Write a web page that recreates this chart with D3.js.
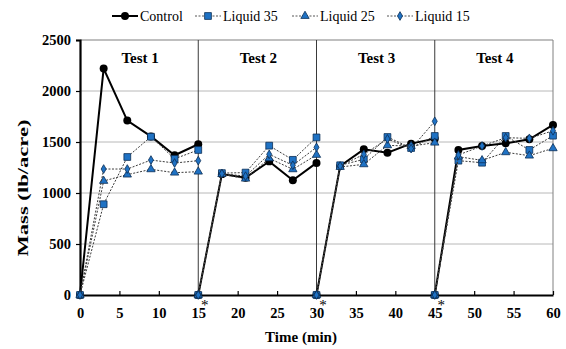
<!DOCTYPE html>
<html>
<head>
<meta charset="utf-8">
<script src="https://cdn.jsdelivr.net/npm/d3@7"></script>
<style>
  html, body { margin: 0; padding: 0; background: #fff; }
  svg text { font-family: "Liberation Serif", "Times New Roman", Times, "Nimbus Roman", "DejaVu Serif", serif !important; }
</style>
</head>
<body>
<svg id="chart" width="566" height="349"></svg>
<script>
// Test blocks and sampling times (minutes from the start of each test)
const testNames = ["Test 1", "Test 2", "Test 3", "Test 4"];
const testStarts = [0, 15, 30, 45];
const sampleOffsets = [0, 3, 6, 9, 12, 15];

// Mass (lb/acre) per test, one row per test, one value per sampling time
const control  = [[0, 2220, 1710, 1555, 1370, 1478],
                  [0, 1185, 1150, 1310, 1125, 1295],
                  [0, 1265, 1428, 1395, 1484, 1533],
                  [0, 1422, 1461, 1487, 1526, 1667]];
const liquid35 = [[0,  890, 1353, 1552, 1335, 1422],
                  [0, 1195, 1200, 1464, 1325, 1545],
                  [0, 1272, 1330, 1549, 1441, 1559],
                  [0, 1317, 1297, 1559, 1422, 1562]];
const liquid25 = [[0, 1118, 1180, 1232, 1199, 1209],
                  [0, 1185, 1140, 1340, 1232, 1373],
                  [0, 1255, 1281, 1467, 1460, 1493],
                  [0, 1356, 1320, 1399, 1366, 1438]];
const liquid15 = [[0, 1235, 1235, 1323, 1294, 1317],
                  [0, 1190, 1165, 1379, 1272, 1448],
                  [0, 1265, 1379, 1530, 1435, 1703],
                  [0, 1373, 1461, 1542, 1536, 1610]];

const xTicks = [0, 5, 10, 15, 20, 25, 30, 35, 40, 45, 50, 55, 60];
const yTicks = [0, 500, 1000, 1500, 2000, 2500];
const asteriskTimes = [15, 30, 45];

const seriesList = [
  { name: "Control",   values: control,  shape: "circle" },
  { name: "Liquid 35", values: liquid35, shape: "square" },
  { name: "Liquid 25", values: liquid25, shape: "triangle" },
  { name: "Liquid 15", values: liquid15, shape: "diamond" }
];

const svg = d3.select("#chart");
const x = d3.scaleLinear().domain([0, 60]).range([80, 553]);
const y = d3.scaleLinear().domain([0, 2500]).range([295, 40]);

const markerFill = "#1f72c4";
const markerStroke = "#0c2f55";

// horizontal gridlines
svg.append("g").selectAll("line").data(yTicks.filter(d => d > 0 && d < 2500)).join("line")
  .attr("x1", x(0)).attr("x2", x(60))
  .attr("y1", d => y(d)).attr("y2", d => y(d))
  .attr("stroke", "#b8b8b8").attr("stroke-width", 1);

// plot frame: top and right edges
svg.append("line").attr("x1", x(0)).attr("x2", x(60)).attr("y1", y(2500)).attr("y2", y(2500))
  .attr("stroke", "#808080").attr("stroke-width", 1.2);
svg.append("line").attr("x1", x(60)).attr("x2", x(60)).attr("y1", y(2500)).attr("y2", y(0))
  .attr("stroke", "#808080").attr("stroke-width", 1);

// dividers between tests
svg.append("g").selectAll("line").data(testStarts.slice(1)).join("line")
  .attr("x1", d => x(d)).attr("x2", d => x(d))
  .attr("y1", y(2500)).attr("y2", y(0))
  .attr("stroke", "#3a3a3a").attr("stroke-width", 1);

// test titles
svg.append("g").selectAll("text").data(testNames).join("text")
  .attr("x", (d, i) => x(testStarts[i] + 7.5) + 1)
  .attr("y", 62.5)
  .attr("text-anchor", "middle")
  .attr("font-weight", "bold").attr("font-size", 15)
  .text(d => d);

// axes
const yAxis = d3.axisLeft(y).tickValues(yTicks).tickSize(4).tickPadding(5).tickFormat(d3.format("d"));
const gy = svg.append("g").attr("transform", `translate(${x(0)},0)`).call(yAxis);
gy.select(".domain").attr("stroke", "#000").attr("stroke-width", 2.2);
gy.selectAll(".tick line").attr("stroke", "#000").attr("stroke-width", 1.2);
gy.selectAll(".tick text").attr("font-weight", "bold").attr("font-size", 14.5).attr("fill", "#000");

const xAxis = d3.axisBottom(x).tickValues(xTicks).tickSizeInner(-4).tickSizeOuter(0).tickPadding(13).tickFormat(d3.format("d"));
const gx = svg.append("g").attr("transform", `translate(0,${y(0)})`).call(xAxis);
gx.select(".domain").attr("stroke", "#000").attr("stroke-width", 2.2);
gx.selectAll(".tick line").attr("stroke", "#000").attr("stroke-width", 1.2);
gx.selectAll(".tick text").attr("font-weight", "bold").attr("font-size", 14.5).attr("fill", "#000");

// asterisks marking the start of each new test, set just above the tick label
gx.selectAll(".tick text")
  .filter(d => asteriskTimes.includes(d))
  .append("tspan")
  .attr("x", 6).attr("dy", -8.5)
  .attr("font-weight", "normal").attr("font-size", 15)
  .text("*");

// axis titles
svg.append("text").attr("x", 301).attr("y", 342)
  .attr("text-anchor", "middle").attr("font-weight", "bold").attr("font-size", 15)
  .text("Time (min)");
svg.append("text")
  .attr("transform", "translate(28,188) rotate(-90)")
  .attr("text-anchor", "middle").attr("font-weight", "bold").attr("font-size", 15)
  .attr("textLength", 137).attr("lengthAdjust", "spacingAndGlyphs")
  .text("Mass (lb/acre)");

// marker drawing
const symbolTypes = { circle: d3.symbolCircle, square: d3.symbolSquare, triangle: d3.symbolTriangle, diamond: d3.symbolDiamond };
const symbolSizes = { circle: 50, square: 46, triangle: 30, diamond: 22 };
function drawMarker(g, shape, cx, cy) {
  const p = g.append("path")
    .attr("d", d3.symbol().type(symbolTypes[shape]).size(symbolSizes[shape])())
    .attr("transform", `translate(${cx},${cy})`);
  if (shape === "circle") p.attr("fill", "#000");
  else p.attr("fill", markerFill).attr("stroke", markerStroke).attr("stroke-width", 0.8);
}

const line = d3.line().x(d => x(d.t)).y(d => y(d.v));

seriesList.forEach(s => {
  const g = svg.append("g");
  s.values.forEach((row, ti) => {
    const pts = row.map((v, k) => ({ t: testStarts[ti] + sampleOffsets[k], v }));
    const path = g.append("path").datum(pts).attr("d", line).attr("fill", "none");
    if (s.shape === "circle") path.attr("stroke", "#000").attr("stroke-width", 2);
    else path.attr("stroke", "#3c3c3c").attr("stroke-width", 1).attr("stroke-dasharray", "2,1.5");
    pts.forEach(p => drawMarker(g, s.shape, x(p.t), y(p.v)));
  });
});

// legend
const legendX = [112, 195, 292, 387];
const legendY = 16;
const lg = svg.append("g");
seriesList.forEach((s, i) => {
  const x0 = legendX[i];
  const ln = lg.append("line").attr("x1", x0).attr("x2", x0 + 26).attr("y1", legendY).attr("y2", legendY);
  if (s.shape === "circle") ln.attr("stroke", "#000").attr("stroke-width", 2);
  else ln.attr("stroke", "#555").attr("stroke-width", 1).attr("stroke-dasharray", "2,1.5");
  drawMarker(lg, s.shape, x0 + 13, legendY);
  lg.append("text").attr("x", x0 + 28).attr("y", legendY + 4.5)
    .attr("font-size", 14).text(s.name);
});
</script>
</body>
</html>
